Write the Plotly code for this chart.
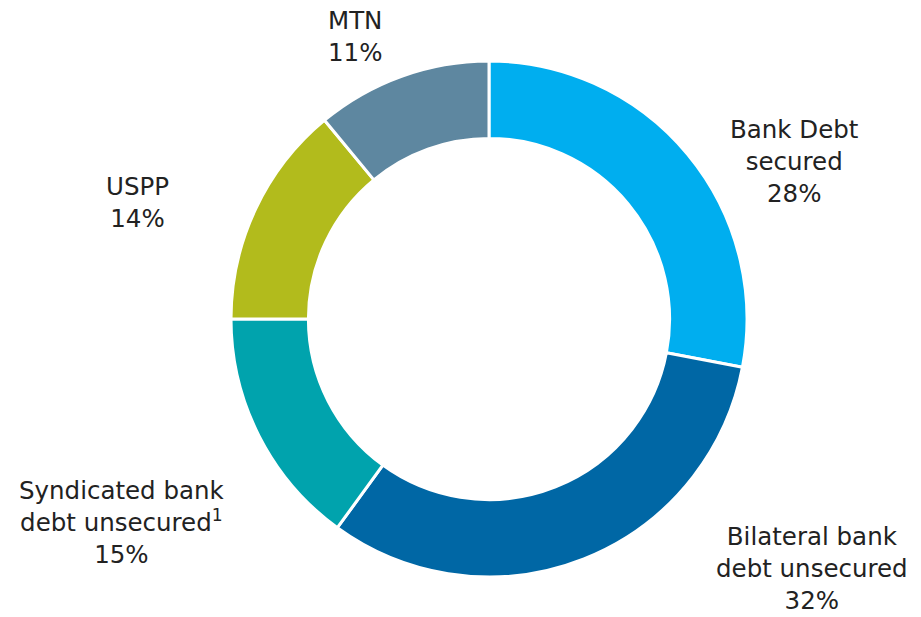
import plotly.graph_objects as go

categories = ["Bank Debt secured", "Bilateral bank debt unsecured", "Syndicated bank debt unsecured", "USPP", "MTN"]
label_text = ["Bank Debt<br>secured", "Bilateral bank<br>debt unsecured", "Syndicated bank<br>debt unsecured<sup>1</sup>", "USPP", "MTN"]
shares = [28, 32, 15, 14, 11]
colors = ["#00AEEF", "#0067A5", "#00A3AD", "#B2BB1C", "#5E87A0"]

# label anchor positions (pixel coords, centre of text block)
label_pos = [(794, 161), (812, 568), (122, 522), (137, 203), (355, 36)]

W, H = 921, 617
cx, cy, R = 489, 319, 258

fig = go.Figure(go.Pie(
    labels=categories,
    values=shares,
    sort=False,
    direction="clockwise",
    rotation=0,
    hole=0.70,
    marker=dict(colors=colors, line=dict(color="white", width=3)),
    textinfo="none",
    hoverinfo="label+percent",
    showlegend=False,
    domain=dict(x=[(cx - R) / W, (cx + R) / W], y=[1 - (cy + R) / H, 1 - (cy - R) / H]),
))

for txt, v, (x, y) in zip(label_text, shares, label_pos):
    fig.add_annotation(
        x=x / W, y=1 - y / H, xref="paper", yref="paper",
        text=f"{txt}<br>{v}%", showarrow=False,
        xanchor="center", yanchor="middle", align="center",
        font=dict(family="DejaVu Sans", size=24.5, color="#222222"),
    )

fig.update_layout(
    width=W, height=H,
    margin=dict(l=0, r=0, t=0, b=0),
    paper_bgcolor="white", plot_bgcolor="white",
)

fig.write_html("out.html")
